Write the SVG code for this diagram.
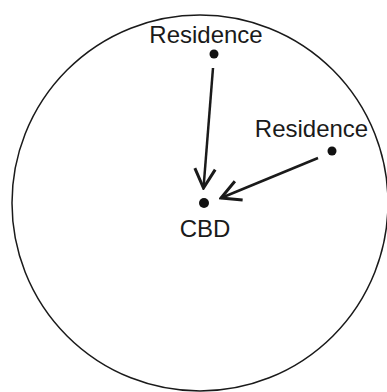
<svg xmlns="http://www.w3.org/2000/svg" width="387" height="392" viewBox="0 0 387 392">
<style>
.lbl{font-family:"Liberation Sans",Arial,sans-serif;font-size:24px;fill:#1a1a1a;text-anchor:middle}
.dot{fill:#111}
.edge{stroke:#1a1a1a;stroke-width:2.5;fill:none}
</style>
<defs>
<marker id="arr" markerUnits="userSpaceOnUse" markerWidth="24" markerHeight="24" viewBox="-18 -10 20 20" refX="0" refY="0" orient="auto">
<path d="M-16,-8.5 L0,0 L-16,8.5" fill="none" stroke="#1a1a1a" stroke-width="2.5"/>
</marker>
</defs>
<rect width="387" height="392" fill="#fff"/>
<circle cx="200" cy="203" r="188" fill="none" stroke="#1a1a1a" stroke-width="1.5"/>
<g id="connectors">
<line class="edge" x1="213" y1="68" x2="203.5" y2="188" marker-end="url(#arr)"/>
<line class="edge" x1="318" y1="158" x2="221" y2="198" marker-end="url(#arr)"/>
</g>
<g id="residence-top">
<text class="lbl" x="206" y="43">Residence</text>
<circle class="dot" cx="214" cy="54" r="4.5"/>
</g>
<g id="residence-right">
<text class="lbl" x="311.5" y="137">Residence</text>
<circle class="dot" cx="332" cy="151" r="4.5"/>
</g>
<g id="cbd">
<circle class="dot" cx="204" cy="203" r="5"/>
<text class="lbl" x="205" y="237">CBD</text>
</g>
</svg>
